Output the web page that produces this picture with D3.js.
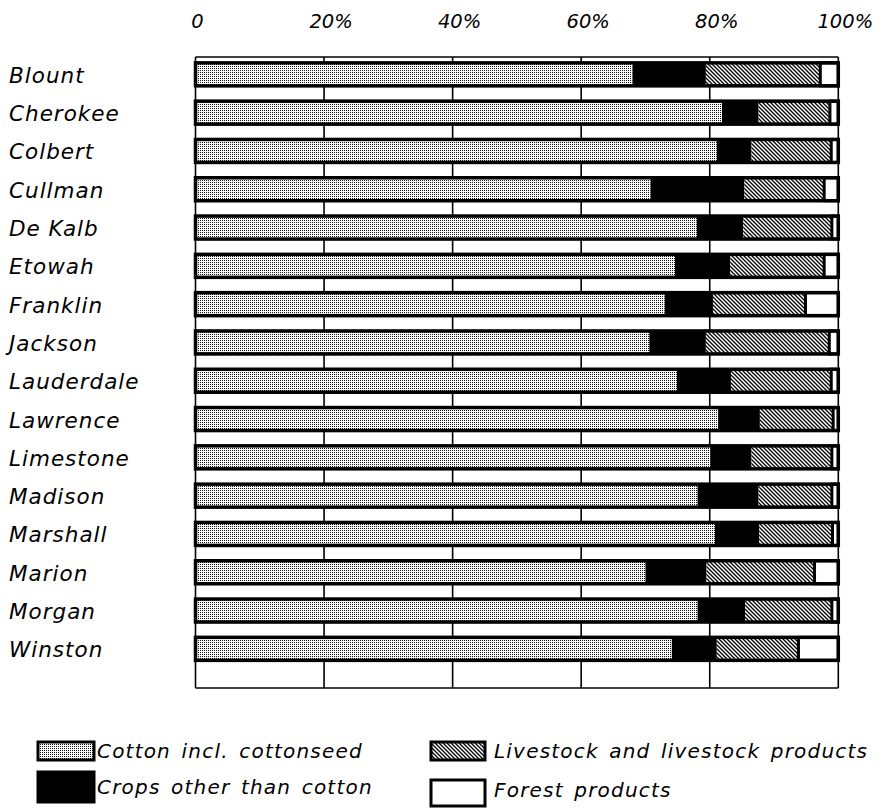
<!DOCTYPE html>
<html><head><meta charset="utf-8">
<script src="https://cdn.jsdelivr.net/npm/d3@7"></script>
<style>
html,body{margin:0;padding:0;background:#fff;}
text{font-family:"DejaVu Sans",sans-serif;font-style:italic;fill:#000;}
</style></head>
<body>
<svg id="chart" width="885" height="808"></svg>
<script>
const counties = ["Blount","Cherokee","Colbert","Cullman","De Kalb","Etowah","Franklin","Jackson","Lauderdale","Lawrence","Limestone","Madison","Marshall","Marion","Morgan","Winston"];
const cotton    = [68.0,81.9,81.1,70.8,78.0,74.6,73.0,70.6,74.9,81.3,80.1,78.1,80.8,70.0,78.1,74.1];
const otherCrops= [11.4, 5.7, 5.4,14.6, 7.2, 8.6, 7.5, 8.8, 8.4, 6.5, 6.4, 9.5, 6.9, 9.5, 7.4, 7.0];
const livestock = [17.8,11.1,12.4,12.4,13.8,14.6,14.4,19.2,15.6,11.4,12.5,11.4,11.4,16.8,13.5,12.7];
const forest    = [ 2.8, 1.3, 1.1, 2.2, 1.0, 2.2, 5.1, 1.4, 1.1, 0.8, 1.0, 1.0, 0.9, 3.7, 1.0, 6.2];
const seriesNames = ["Cotton incl. cottonseed","Crops other than cotton","Livestock and livestock products","Forest products"];
const tickValues = [0,20,40,60,80,100];
const tickLabels = ["0","20%","40%","60%","80%","100%"];

const svg = d3.select("#chart");
const defs = svg.append("defs");
const dots = defs.append("pattern").attr("id","dots").attr("patternUnits","userSpaceOnUse").attr("width",2).attr("height",2);
dots.append("rect").attr("width",2).attr("height",2).attr("fill","#fff");
dots.append("rect").attr("width",1).attr("height",1).attr("fill","#111");
const hatch = defs.append("pattern").attr("id","hatch").attr("patternUnits","userSpaceOnUse").attr("width",4).attr("height",4);
hatch.append("rect").attr("width",4).attr("height",4).attr("fill","#fff");
hatch.append("path").attr("d","M-1,-1L5,5M-1,3L1,5M3,-1L5,1").attr("stroke","#000").attr("stroke-width",1.3);
const fills = ["url(#dots)","#000","url(#hatch)","#fff"];

const x = d3.scaleLinear().domain([0,100]).range([195.5,838.3]);
const y = d3.scaleBand().domain(counties).range([55.2,668]).paddingInner(0).paddingOuter(0);
const barH = 23;
const frameTop = 57, frameBottom = 688;

// frame / grid
const g = svg.append("g");
g.selectAll("line.grid").data(tickValues).join("line")
  .attr("x1",d=>x(d)).attr("x2",d=>x(d)).attr("y1",frameTop).attr("y2",frameBottom)
  .attr("stroke","#000").attr("stroke-width",1.6);
[frameTop, frameBottom].forEach(yy=>{
  g.append("line").attr("x1",x(0)).attr("x2",x(100)).attr("y1",yy).attr("y2",yy).attr("stroke","#000").attr("stroke-width",1.6);
});

// top tick labels
svg.selectAll("text.tick").data(tickValues).join("text")
  .attr("x",(d,i)=>x(d)+(i===0?2:7))
  .attr("text-anchor","middle")
  .attr("y",28).attr("font-size",19.5)
  .text((d,i)=>tickLabels[i]);

// bars
const series = [cotton, otherCrops, livestock, forest];
counties.forEach((c,i)=>{
  const by = y(c) + (y.step()-barH)/2;
  let cum = 0;
  const row = svg.append("g");
  series.forEach((s,k)=>{
    const v = s[i];
    row.append("rect").attr("x",x(cum)).attr("y",by).attr("width",x(cum+v)-x(cum)).attr("height",barH)
      .attr("fill",fills[k]).attr("stroke", k===3 ? "#000" : "none").attr("stroke-width",3);
    cum += v;
  });
  row.append("rect").attr("x",x(0)).attr("y",by).attr("width",x(100)-x(0)).attr("height",barH)
    .attr("fill","none").attr("stroke","#000").attr("stroke-width",3.5);
  svg.append("text").attr("x",9).attr("y",by+barH/2+8.5).attr("font-size",21.5).attr("letter-spacing",1)
    .text(c);
});

// legend
const legend = [
  {k:0,x:38,y:742,w:56,h:18,tx:97,ty:758},
  {k:1,x:38,y:772,w:56,h:30,tx:97,ty:794},
  {k:2,x:431,y:742,w:54,h:18,tx:494,ty:758},
  {k:3,x:431,y:780,w:54,h:26,tx:494,ty:797}
];
legend.forEach(l=>{
  svg.append("rect").attr("x",l.x).attr("y",l.y).attr("width",l.w).attr("height",l.h)
    .attr("fill",fills[l.k]).attr("stroke","#000").attr("stroke-width",3);
  svg.append("text").attr("x",l.tx).attr("y",l.ty).attr("font-size",20).attr("letter-spacing",1.2).attr("word-spacing",3).text(seriesNames[l.k]);
});
</script>
</body></html>
